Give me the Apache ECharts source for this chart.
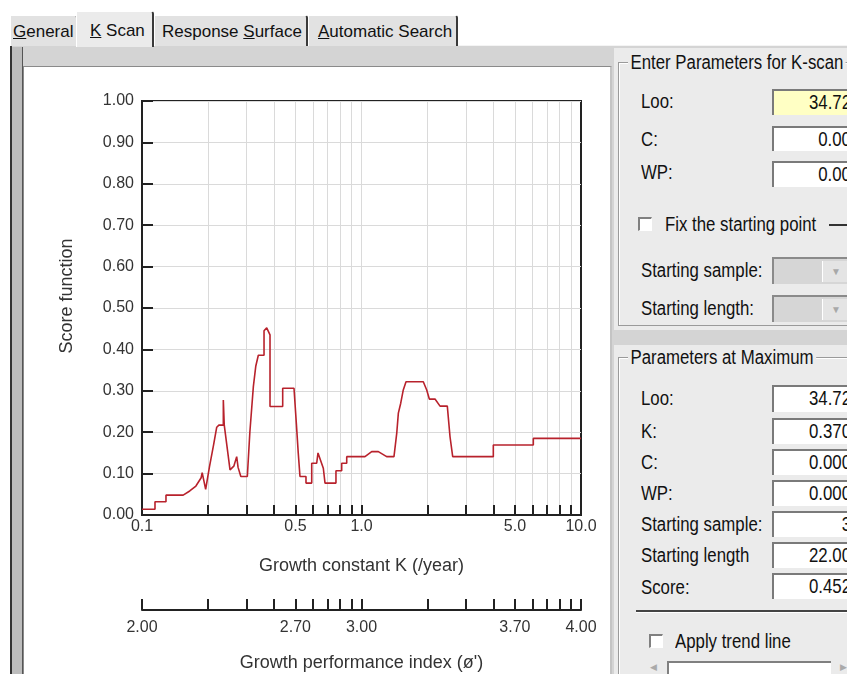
<!DOCTYPE html>
<html>
<head>
<meta charset="utf-8">
<script src="https://cdn.jsdelivr.net/npm/echarts@6/dist/echarts.min.js"></script>
<style>
body{margin:0;width:847px;height:674px;overflow:hidden;background:#fff;position:relative;font-family:'Liberation Sans',Arial,sans-serif;color:#111;}
.a{position:absolute;box-sizing:border-box;}
.tab{position:absolute;box-sizing:border-box;top:15px;height:31px;background:#e2e2e2;border-top:1px solid #fff;border-left:1px solid #fff;border-right:2px solid #3a3a3a;border-top-right-radius:3px;font-size:17px;line-height:32px;white-space:nowrap;}
.n{position:absolute;font-size:20px;line-height:20px;white-space:nowrap;transform:scaleX(0.84);transform-origin:0 50%;color:#111;}
.box{position:absolute;box-sizing:border-box;left:772px;width:92px;background:#fff;border-top:2px solid #7a7a7a;border-left:2px solid #7a7a7a;text-align:right;padding-right:13px;}
.box span{display:inline-block;font-size:20px;white-space:nowrap;transform:scaleX(0.84);transform-origin:100% 50%;}
.combo{position:absolute;box-sizing:border-box;left:772px;width:92px;height:27px;background:#d6d6d6;border-top:2px solid #8a8a8a;border-left:2px solid #8a8a8a;}
.combo i{position:absolute;left:48px;top:2px;width:26px;height:21px;background:#e4e4e4;border-left:1px solid #fff;color:#a8a8a8;font-style:normal;font-size:10px;text-align:center;line-height:21px;}
.chk{position:absolute;box-sizing:border-box;width:14px;height:14px;background:#fff;border-top:2px solid #808080;border-left:2px solid #808080;border-right:1px solid #fff;border-bottom:1px solid #fff;}
.grp{position:absolute;box-sizing:border-box;border:1px solid #9a9a9a;box-shadow:inset 1px 1px 0 #fff;}
.ttl{position:absolute;font-size:20px;line-height:20px;white-space:nowrap;transform:scaleX(0.84);transform-origin:0 50%;background:#ebebeb;padding:0 3px;}
#chart{position:absolute;left:0;top:0;width:847px;height:674px;z-index:5;}
</style>
</head>
<body>
<!-- tab strip -->
<div class="a" style="left:10px;top:45px;width:850px;height:640px;background:#d4d4d4;border-top:1px solid #f4f4f4;border-left:2px solid #333;"></div>
<div class="tab" style="left:10px;width:68px;padding-left:2px;"><u>G</u>eneral</div>
<div class="tab" style="left:154px;width:154px;padding-left:7px;">Response <u>S</u>urface</div>
<div class="tab" style="left:308px;width:150px;padding-left:9px;"><u>A</u>utomatic Search</div>
<div class="tab" style="left:76px;width:78px;top:11px;height:36px;background:#ebebeb;padding-left:13px;line-height:38px;z-index:2;"><u>K</u> Scan</div>

<!-- chart paper -->
<div class="a" style="left:12px;top:47px;width:11px;height:640px;background:#bdbdbd;border-right:1px solid #555;"></div>
<div class="a" style="left:23px;top:66px;width:589px;height:620px;background:#fff;border-top:1px solid #8a8a8a;border-left:1px solid #8a8a8a;border-right:2px solid #c4c4c4;"></div>

<!-- right column -->
<div class="a" style="left:614px;top:48px;width:240px;height:282px;background:#ebebeb;"></div>
<div class="a" style="left:614px;top:345px;width:240px;height:340px;background:#ebebeb;"></div>

<div class="grp" style="left:618px;top:62px;width:250px;height:264px;"></div>
<div class="ttl" style="left:628px;top:52px;">Enter Parameters for K-scan</div>
<div class="n" style="left:641px;top:91px;">Loo:</div>
<div class="n" style="left:641px;top:129px;">C:</div>
<div class="n" style="left:641px;top:162px;">WP:</div>
<div class="box" style="top:89px;height:26px;background:#ffffc4;"><span>34.72</span></div>
<div class="box" style="top:126px;height:25px;"><span>0.00</span></div>
<div class="box" style="top:161px;height:26px;"><span>0.00</span></div>
<div class="chk" style="left:638px;top:217px;"></div>
<div class="n" style="left:665px;top:214px;">Fix the starting point</div>
<div class="a" style="left:829px;top:224px;width:30px;height:2px;background:#333;"></div>
<div class="n" style="left:641px;top:260px;">Starting sample:</div>
<div class="n" style="left:641px;top:298px;">Starting length:</div>
<div class="combo" style="top:257px;"><i>&#9660;</i></div>
<div class="combo" style="top:295px;"><i>&#9660;</i></div>

<div class="grp" style="left:618px;top:357px;width:250px;height:330px;"></div>
<div class="ttl" style="left:628px;top:347px;">Parameters at Maximum</div>
<div class="n" style="left:641px;top:388px;">Loo:</div>
<div class="n" style="left:641px;top:421px;">K:</div>
<div class="n" style="left:641px;top:452px;">C:</div>
<div class="n" style="left:641px;top:483px;">WP:</div>
<div class="n" style="left:641px;top:514px;">Starting sample:</div>
<div class="n" style="left:641px;top:545px;">Starting length</div>
<div class="n" style="left:641px;top:577px;">Score:</div>
<div class="box" style="top:385px;height:27px;"><span>34.72</span></div>
<div class="box" style="top:418px;height:26px;"><span>0.370</span></div>
<div class="box" style="top:449px;height:26px;"><span>0.000</span></div>
<div class="box" style="top:480px;height:26px;"><span>0.000</span></div>
<div class="box" style="top:511px;height:26px;"><span>3</span></div>
<div class="box" style="top:542px;height:26px;"><span>22.00</span></div>
<div class="box" style="top:573px;height:26px;"><span>0.452</span></div>
<div class="a" style="left:636px;top:610px;width:230px;height:3px;border-top:2px solid #444;border-bottom:1px solid #fff;"></div>
<div class="chk" style="left:649px;top:634px;"></div>
<div class="n" style="left:675px;top:631px;">Apply trend line</div>
<div class="a" style="left:650px;top:662px;font-size:9px;color:#aaa;">&#9664;</div>
<div class="a" style="left:667px;top:661px;width:164px;height:20px;background:#fff;border-top:2px solid #808080;border-left:2px solid #808080;"></div>
<div class="a" style="left:840px;top:662px;font-size:9px;color:#aaa;">&#9654;</div>

<div id="chart"></div>
<script>
// K-scan result
var kValues = [
  0.1, 0.1146, 0.1146, 0.1286, 0.1286, 0.154, 0.165, 0.176, 0.186, 0.188,
  0.191, 0.195, 0.203, 0.212, 0.219, 0.224, 0.2347, 0.2347, 0.237, 0.2518,
  0.262, 0.270, 0.274, 0.282, 0.3019, 0.310, 0.3216, 0.330, 0.3388, 0.3597,
  0.3597, 0.370, 0.383, 0.383, 0.4375, 0.4375, 0.4926, 0.505, 0.515, 0.5245,
  0.5586, 0.5586, 0.5932, 0.5932, 0.625, 0.6336, 0.670, 0.682, 0.765, 0.765,
  0.8124, 0.8124, 0.8564, 0.8564, 1.037, 1.113, 1.193, 1.302, 1.406, 1.447,
  1.472, 1.509, 1.550, 1.595, 1.912, 1.982, 2.037, 2.162, 2.279, 2.460,
  2.531, 2.603, 3.986, 3.986, 6.064, 6.064, 10
];
var scores = [
  0.014, 0.014, 0.032, 0.032, 0.048, 0.048, 0.058, 0.070, 0.090, 0.102,
  0.085, 0.062, 0.117, 0.170, 0.212, 0.217, 0.217, 0.278, 0.217, 0.109,
  0.118, 0.141, 0.115, 0.093, 0.093, 0.200, 0.310, 0.360, 0.386, 0.386,
  0.445, 0.452, 0.435, 0.262, 0.262, 0.306, 0.306, 0.220, 0.150, 0.093,
  0.093, 0.077, 0.077, 0.125, 0.125, 0.150, 0.113, 0.077, 0.077, 0.107,
  0.107, 0.125, 0.125, 0.141, 0.141, 0.153, 0.153, 0.141, 0.141, 0.197,
  0.246, 0.270, 0.302, 0.322, 0.322, 0.302, 0.280, 0.280, 0.263, 0.263,
  0.189, 0.141, 0.141, 0.169, 0.169, 0.185, 0.185
];

// axis ticks and labels
var kTickValues = [0.2, 0.3, 0.4, 0.5, 0.6, 0.7, 0.8, 0.9, 1, 2, 3, 4, 5, 6, 7, 8, 9];
var kLabelValues = [0.1, 0.5, 1, 5, 10];
var kLabelText = ['0.1', '0.5', '1.0', '5.0', '10.0'];
var phiLabelText = ['2.00', '2.70', '3.00', '3.70', '4.00'];
var phiTickValues = [0.1].concat(kTickValues, [10]);

var chart = echarts.init(document.getElementById('chart'));

var lineData = kValues.map(function (k, i) { return [k, scores[i]]; });

function pickLabel(texts) {
  return function (v) {
    for (var i = 0; i < kLabelValues.length; i++) {
      if (Math.abs(v - kLabelValues[i]) < kLabelValues[i] * 1e-6) return texts[i];
    }
    return '';
  };
}

var txt = { fontFamily: 'Liberation Sans', fontSize: 16, color: '#333' };
var nameTxt = { fontFamily: 'Liberation Sans', fontSize: 18, color: '#333' };
var dark = { color: '#222', width: 2 };

var option = {
  animation: false,
  grid: [
    { left: 142, top: 101, width: 439, height: 414, show: true, borderColor: '#222', borderWidth: 2, outerBoundsMode: 'none' },
    { left: 142, top: 600, width: 439, height: 10, outerBoundsMode: 'none' }
  ],
  xAxis: [
    {
      type: 'log', gridIndex: 0, logBase: 10, min: 0.1, max: 10, position: 'bottom',
      name: 'Growth constant K (/year)', nameLocation: 'middle', nameGap: 42, nameTextStyle: nameTxt,
      axisLine: { show: true, lineStyle: dark },
      axisTick: { show: true, inside: true, length: 10, customValues: kTickValues, lineStyle: dark },
      axisLabel: Object.assign({ customValues: kLabelValues, formatter: pickLabel(kLabelText), margin: 4 }, txt),
      splitLine: { show: true, lineStyle: { color: '#dadada', width: 1 } },
      minorTick: { show: false }
    },
    {
      type: 'log', gridIndex: 1, logBase: 10, min: 0.1, max: 10, position: 'bottom',
      name: 'Growth performance index (ø\')', nameLocation: 'middle', nameGap: 44, nameTextStyle: nameTxt,
      axisLine: { show: true, lineStyle: dark },
      axisTick: { show: true, inside: true, length: 11, customValues: phiTickValues, lineStyle: dark },
      axisLabel: Object.assign({ customValues: kLabelValues, formatter: pickLabel(phiLabelText), margin: 10 }, txt),
      splitLine: { show: false },
      minorTick: { show: false }
    }
  ],
  yAxis: [
    {
      type: 'value', gridIndex: 0, min: 0, max: 1, interval: 0.1,
      name: 'Score function', nameLocation: 'middle', nameGap: 66,
      nameTextStyle: Object.assign({ padding: [0, 0, 0, 24] }, nameTxt),
      axisLine: { show: true, lineStyle: dark },
      axisTick: { show: true, inside: true, length: 11, lineStyle: dark },
      axisLabel: Object.assign({ margin: 8, formatter: function (v) { return v.toFixed(2); } }, txt),
      splitLine: { show: true, lineStyle: { color: '#dadada', width: 1 } }
    },
    { type: 'value', gridIndex: 1, min: 0, max: 1, show: false }
  ],
  series: [
    {
      type: 'line', xAxisIndex: 0, yAxisIndex: 0, data: lineData,
      symbol: 'none', showSymbol: false,
      lineStyle: { color: '#b8222c', width: 1.6 }
    }
  ]
};

chart.setOption(option);
</script>
</body>
</html>
